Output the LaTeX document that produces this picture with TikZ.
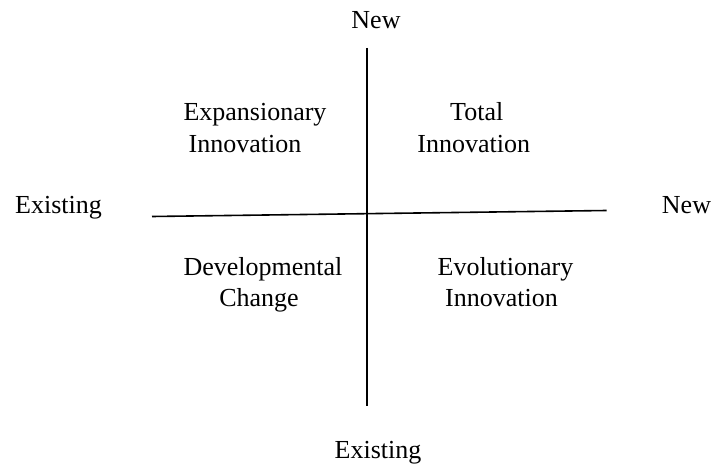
\documentclass[tikz,border=0pt]{standalone}
\usepackage{fontspec}
\setmainfont{Liberation Serif}
\begin{document}
\begin{tikzpicture}[x=1pt,y=-1pt,
  lbl/.style={inner sep=0pt,anchor=base,font=\fontsize{26}{32}\selectfont},
  axis/.style={line width=1.6pt,black}]
\useasboundingbox (0,0) rectangle (711,465);
\coordinate (vtop) at (367,48);
\coordinate (vbot) at (367,406);
\coordinate (hleft) at (152,216.5);
\coordinate (hright) at (606.5,210.5);
\draw[axis] (vtop) -- (vbot);
\draw[axis] (hleft) -- (hright);
\node[lbl] (newtop) at (376,28.3) {New};
\node[lbl] (exleft) at (58.5,213.3) {Existing};
\node[lbl] (newright) at (686.5,213.3) {New};
\node[lbl] (exbot) at (378,458) {Existing};
\node[lbl] (q1a) at (255,120.7) {Expansionary};
\node[lbl] (q1b) at (245,153) {Innovation};
\node[lbl] (q2a) at (476.7,120.7) {Total};
\node[lbl] (q2b) at (473.7,153) {Innovation};
\node[lbl] (q3a) at (263,275) {Developmental};
\node[lbl] (q3b) at (259,306) {Change};
\node[lbl] (q4a) at (505.5,275) {Evolutionary};
\node[lbl] (q4b) at (501.5,306) {Innovation};
\end{tikzpicture}
\end{document}
